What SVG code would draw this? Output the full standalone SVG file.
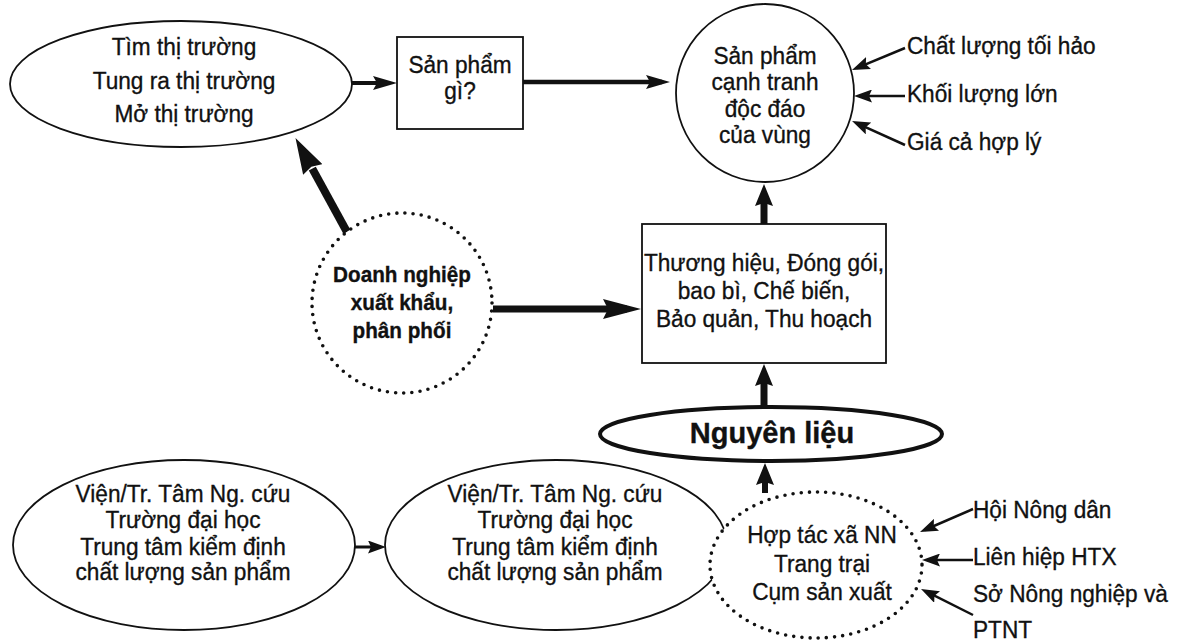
<svg xmlns="http://www.w3.org/2000/svg" width="1184" height="644" viewBox="0 0 1184 644">
<style>
text{font-family:"Liberation Sans",Arial,sans-serif;font-size:24.5px;fill:#111;stroke:#111;stroke-width:0.35;text-anchor:middle;transform-box:fill-box;transform-origin:center;transform:scaleX(0.925)}
text.l{text-anchor:start;transform-origin:left center}
text.b{font-weight:bold;font-size:22px;transform:scaleX(0.94)}
text.nl{font-weight:bold;font-size:29px;transform:none}
.sh{fill:#fff;stroke:#111;stroke-width:1.8}
.dot{fill:#fff;stroke:#111;stroke-width:3.6;stroke-dasharray:0 8.2;stroke-linecap:round}
.ln{fill:none;stroke:#111}
</style>
<defs>
<marker id="hS" markerUnits="userSpaceOnUse" viewBox="0 0 18 13" markerWidth="18" markerHeight="13" refX="13" refY="6.5" orient="auto"><path d="M0,0 L18,6.5 L0,13 L3,6.5 z" fill="#111"/></marker>
<marker id="hM" markerUnits="userSpaceOnUse" viewBox="0 0 24 14" markerWidth="24" markerHeight="14" refX="16" refY="7" orient="auto"><path d="M0,0 L24,7 L0,14 L4,7 z" fill="#111"/></marker>
<marker id="hB" markerUnits="userSpaceOnUse" viewBox="0 0 38 20" markerWidth="38" markerHeight="20" refX="24" refY="10" orient="auto"><path d="M0,0 L38,10 L0,20 L5,10 z" fill="#111"/></marker>
<marker id="hV" markerUnits="userSpaceOnUse" viewBox="0 0 22 18" markerWidth="22" markerHeight="18" refX="12" refY="9" orient="auto"><path d="M0,0 L22,9 L0,18 L3,9 z" fill="#111"/></marker>
<marker id="hD" markerUnits="userSpaceOnUse" viewBox="0 0 36 22" markerWidth="36" markerHeight="22" refX="1" refY="11" orient="auto"><path d="M0,0 L36,11 L0,22 L3,11 z" fill="#111"/></marker>
</defs>

<g id="connectors">
  <path class="ln" d="M352,83 L389,83" stroke-width="4" marker-end="url(#hM)"/>
  <path class="ln" d="M523,82 L662,82" stroke-width="4.5" marker-end="url(#hM)"/>
  <path class="ln" d="M905,48 L856.6,68.1" stroke-width="2.5" marker-end="url(#hS)"/>
  <path class="ln" d="M905,96 L859,96" stroke-width="2.5" marker-end="url(#hS)"/>
  <path class="ln" d="M905,145 L856.6,123.1" stroke-width="2.5" marker-end="url(#hS)"/>
  <path class="ln" d="M347,232 L312.3,168.6" stroke-width="8" marker-end="url(#hD)"/>
  <path class="ln" d="M346,230 L313,170" stroke="#fff" stroke-width="4.5"/>
  <path class="ln" d="M346,230 L313,170" stroke="#444" stroke-width="1.2"/>
  <path class="ln" d="M493,309 L627,309" stroke-width="7" marker-end="url(#hB)"/>
  <path class="ln" d="M764,224 L764,194" stroke-width="7" marker-end="url(#hV)"/>
  <path class="ln" d="M764,407 L764,374" stroke-width="7" marker-end="url(#hV)"/>
  <path class="ln" d="M765,493 L765,473" stroke-width="6" marker-end="url(#hV)"/>
  <path class="ln" d="M355,547 L381,547" stroke-width="3" marker-end="url(#hS)"/>
  <path class="ln" d="M973,509 L924.6,530" stroke-width="2.5" marker-end="url(#hS)"/>
  <path class="ln" d="M973,560 L927,560" stroke-width="2.5" marker-end="url(#hS)"/>
  <path class="ln" d="M973,615 L925.5,591.2" stroke-width="2.5" marker-end="url(#hS)"/>
</g>

<g id="thi-truong">
  <ellipse class="sh" cx="181" cy="84" rx="171" ry="63"/>
  <text x="184" y="55">Tìm thị trường</text>
  <text x="184" y="89">Tung ra thị trường</text>
  <text x="184" y="122">Mở thị trường</text>
</g>

<g id="san-pham-gi">
  <rect class="sh" x="397" y="37" width="126" height="92" stroke-width="2"/>
  <text x="460" y="73">Sản phẩm</text>
  <text x="460" y="99">gì?</text>
</g>

<g id="san-pham-canh-tranh">
  <circle class="sh" cx="765" cy="93" r="89"/>
  <text x="765" y="64">Sản phẩm</text>
  <text x="765" y="90">cạnh tranh</text>
  <text x="765" y="117">độc đáo</text>
  <text x="765" y="143">của vùng</text>
</g>

<g id="nhan-to">
  <text class="l" x="907" y="54">Chất lượng tối hảo</text>
  <text class="l" x="907" y="102">Khối lượng lớn</text>
  <text class="l" x="907" y="150">Giá cả hợp lý</text>
</g>

<g id="doanh-nghiep">
  <circle class="dot" cx="402" cy="303" r="90"/>
  <text class="b" x="402" y="282">Doanh nghiệp</text>
  <text class="b" x="402" y="310">xuất khẩu,</text>
  <text class="b" x="402" y="338">phân phối</text>
</g>

<g id="thuong-hieu">
  <rect class="sh" x="642" y="224" width="244" height="139" stroke-width="2"/>
  <text x="764" y="271">Thương hiệu, Đóng gói,</text>
  <text x="764" y="299">bao bì, Chế biến,</text>
  <text x="764" y="327">Bảo quản, Thu hoạch</text>
</g>

<g id="nguyen-lieu">
  <ellipse cx="771" cy="434" rx="171" ry="27" fill="#fff" stroke="#111" stroke-width="4"/>
  <text class="nl" x="772" y="443">Nguyên liệu</text>
</g>

<g id="vien-1">
  <ellipse class="sh" cx="184" cy="545" rx="171" ry="85"/>
  <text x="183" y="502">Viện/Tr. Tâm Ng. cứu</text>
  <text x="183" y="528">Trường đại học</text>
  <text x="183" y="555">Trung tâm kiểm định</text>
  <text x="183" y="580">chất lượng sản phẩm</text>
</g>

<g id="vien-2">
  <ellipse class="sh" cx="556" cy="545" rx="171" ry="85"/>
  <text x="555" y="502">Viện/Tr. Tâm Ng. cứu</text>
  <text x="555" y="528">Trường đại học</text>
  <text x="555" y="555">Trung tâm kiểm định</text>
  <text x="555" y="580">chất lượng sản phẩm</text>
</g>

<g id="hop-tac-xa">
  <ellipse class="dot" cx="816" cy="565" rx="106" ry="73"/>
  <text x="822" y="543">Hợp tác xã NN</text>
  <text x="822" y="572">Trang trại</text>
  <text x="822" y="600">Cụm sản xuất</text>
</g>

<g id="to-chuc">
  <text class="l" x="973" y="518">Hội Nông dân</text>
  <text class="l" x="973" y="565">Liên hiệp HTX</text>
  <text class="l" x="973" y="602">Sở Nông nghiệp và</text>
  <text class="l" x="973" y="638">PTNT</text>
</g>
</svg>
